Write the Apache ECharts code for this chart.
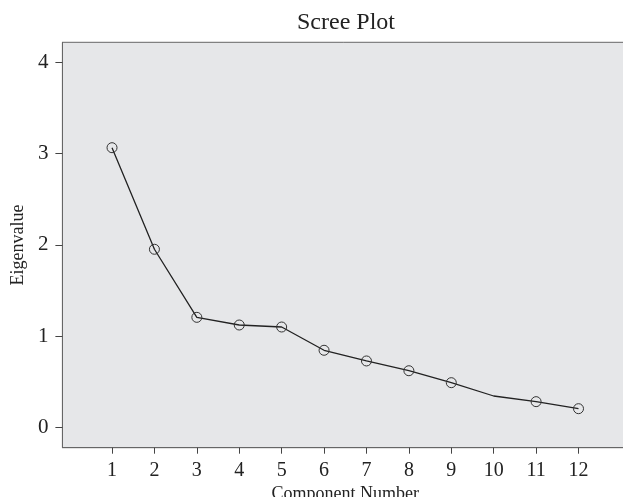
<!DOCTYPE html>
<html>
<head>
<meta charset="utf-8">
<script src="https://cdn.jsdelivr.net/npm/echarts@6/dist/echarts.min.js"></script>
<style>html,body{margin:0;padding:0;background:#fff}#c{width:623px;height:497px}</style>
</head>
<body>
<div id="c"></div>
<script>
var components = [1, 2, 3, 4, 5, 6, 7, 8, 9, 10, 11, 12];
var eigenvalues = [3.064, 1.951, 1.205, 1.121, 1.099, 0.844, 0.727, 0.620, 0.489, 0.343, 0.281, 0.204];
var markerShown = [true, true, true, true, true, true, true, true, true, false, true, true];
var xTicks = [1, 2, 3, 4, 5, 6, 7, 8, 9, 10, 11, 12];
var yTicks = [0, 1, 2, 3, 4];

var font = '"Liberation Serif", "Times New Roman", serif';
var data = components.map(function (c, i) {
  var d = { value: [c, eigenvalues[i]] };
  if (!markerShown[i]) d.symbol = 'none';
  return d;
});

var chart = echarts.init(document.getElementById('c'), null, { renderer: 'canvas' });
chart.setOption({
  animation: false,
  title: {
    text: 'Scree Plot', left: 297, top: 11, padding: 0,
    textStyle: { fontFamily: font, fontSize: 24, fontWeight: 'normal', color: '#222' }
  },
  grid: {
    left: 62.4, right: -5, top: 42.3, bottom: 49.3,
    containLabel: false, outerBoundsMode: 'none',
    show: true, backgroundColor: '#e6e7e9', borderColor: '#666', borderWidth: 1
  },
  xAxis: {
    type: 'value', min: -0.17, max: 13.167,
    name: 'Component Number', nameLocation: 'middle', nameGap: 37,
    nameTextStyle: { fontFamily: font, fontSize: 18, color: '#222' },
    axisLine: { show: true, onZero: false, lineStyle: { color: '#666', width: 1 } },
    axisTick: { show: true, length: 6, customValues: xTicks, lineStyle: { color: '#444' } },
    axisLabel: { customValues: xTicks, margin: 13, fontFamily: font, fontSize: 20, color: '#222' },
    splitLine: { show: false }
  },
  yAxis: {
    type: 'value', min: -0.2236, max: 4.219,
    name: 'Eigenvalue', nameLocation: 'middle', nameRotate: 90, nameGap: 35,
    nameTextStyle: { fontFamily: font, fontSize: 18, color: '#222' },
    axisLine: { show: true, onZero: false, lineStyle: { color: '#666', width: 1 } },
    axisTick: { show: true, length: 7, customValues: yTicks, lineStyle: { color: '#444' } },
    axisLabel: { customValues: yTicks, margin: 14, fontFamily: font, fontSize: 21, color: '#222' },
    splitLine: { show: false }
  },
  series: [{
    type: 'line', data: data,
    symbol: 'circle', symbolSize: 10, showAllSymbol: true,
    lineStyle: { color: '#222', width: 1.3 },
    itemStyle: { color: 'rgba(0,0,0,0)', borderColor: '#333', borderWidth: 1 },
    emphasis: { disabled: true }
  }]
});
</script>
</body>
</html>
